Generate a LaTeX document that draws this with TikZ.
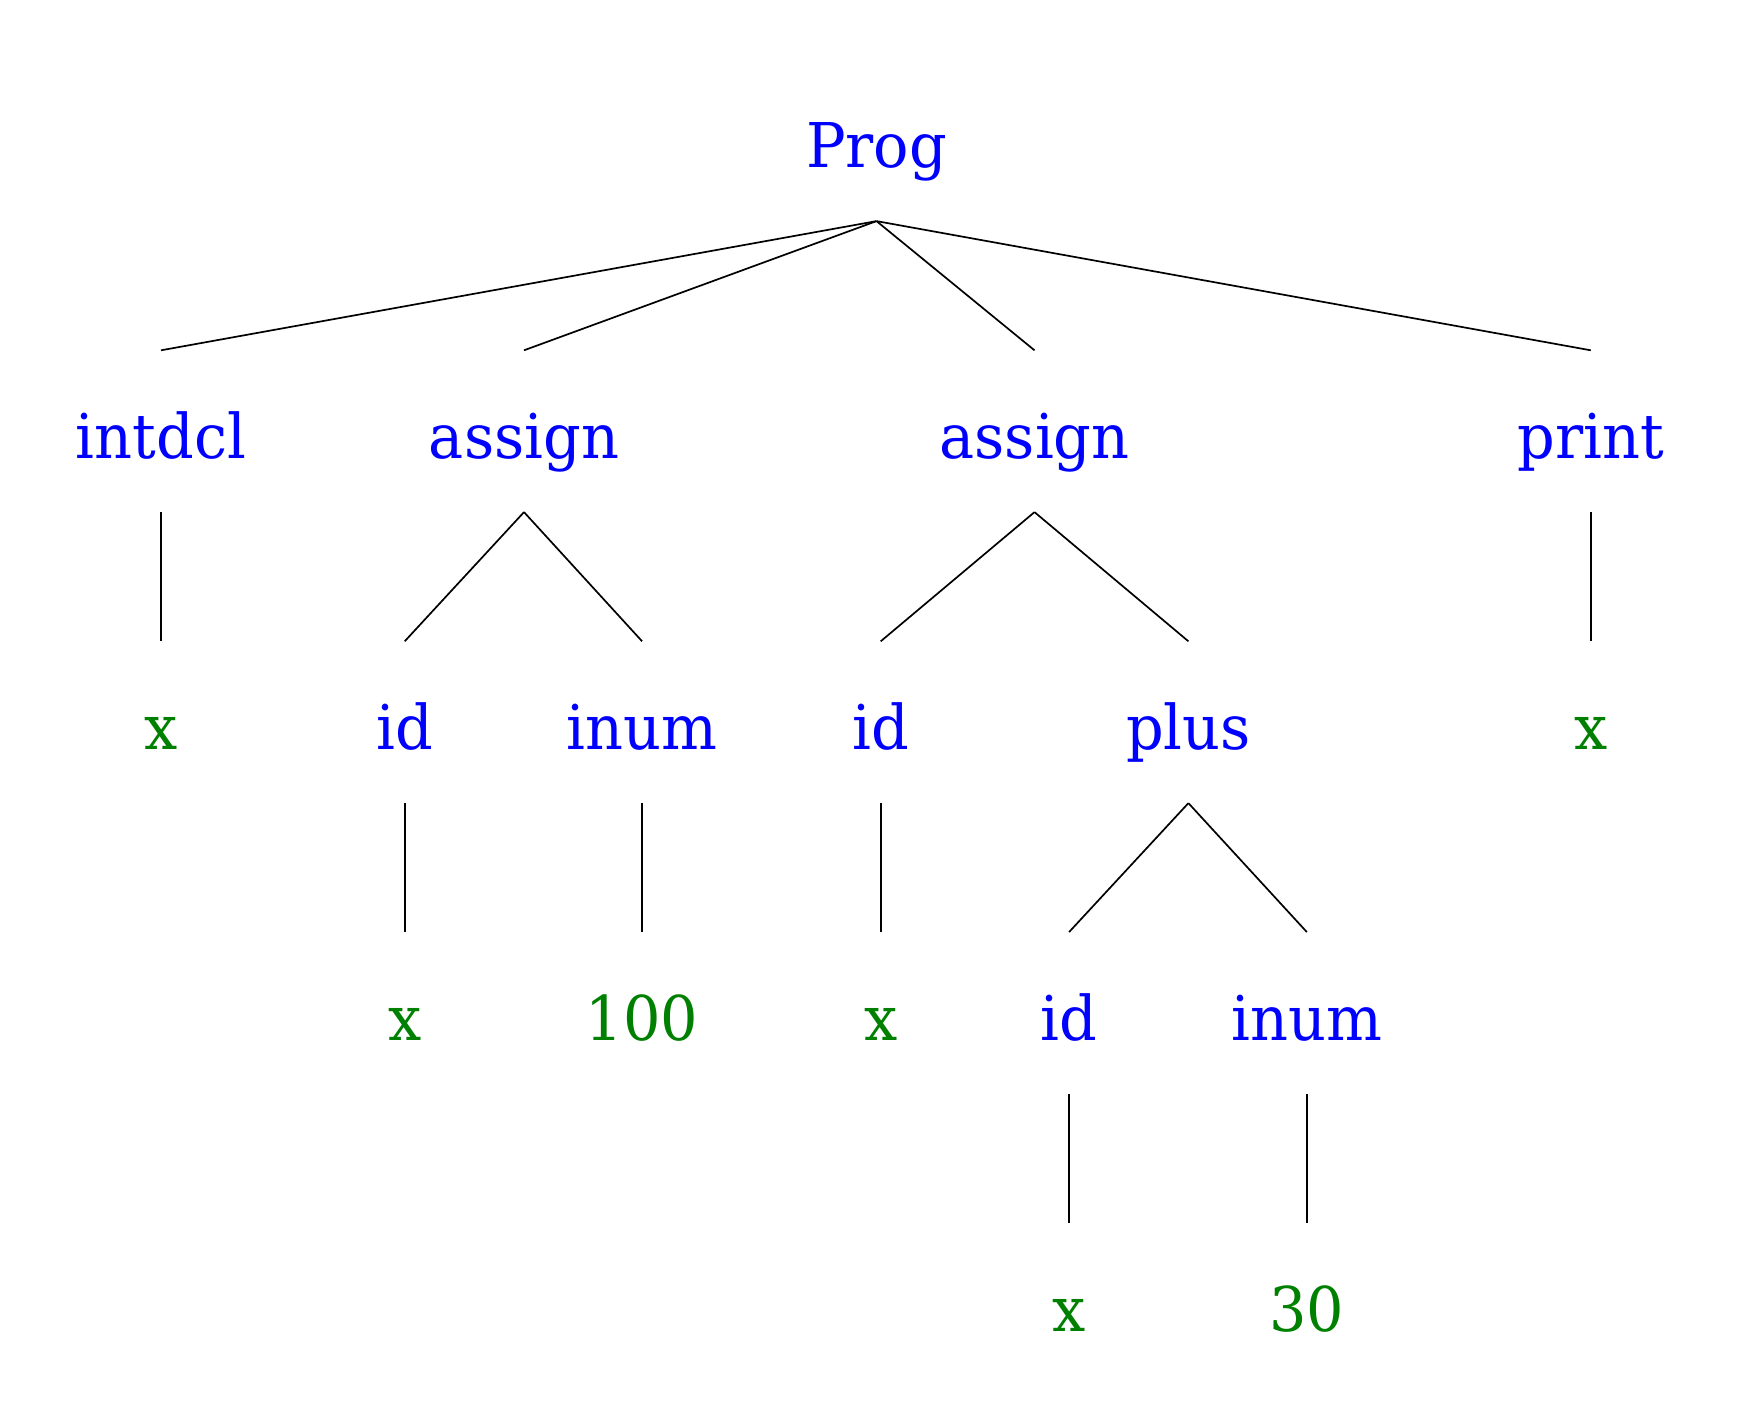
\documentclass[tikz,border=0pt]{standalone}
\usepackage{fontspec}
\setmainfont[FakeStretch=0.955]{DejaVu Serif}
\definecolor{nt}{RGB}{0,0,255}
\definecolor{tm}{RGB}{0,128,0}
\begin{document}
\begin{tikzpicture}[x=0.5pt,y=-0.5pt,
  lbl/.style={anchor=base,inner sep=0pt,text height=53.8pt,text depth=26.7pt,
    font=\fontsize{30.85}{37}\selectfont},
  ntn/.style={lbl,text=nt},
  tmn/.style={lbl,text=tm},
  edge/.style={line width=0.85pt,black}]
\useasboundingbox (0,0) rectangle (1748,1409);
% level 0
\node[ntn] (prog) at (876.5,167.3) {Prog};
% level 1
\node[ntn] (intdcl) at (161,458.3) {intdcl};
\node[ntn] (as1) at (524,458.3) {assign};
\node[ntn] (as2) at (1034.5,458.3) {assign};
\node[ntn] (print) at (1590.8,458.3) {print};
% level 2
\node[tmn] (x1) at (161,749.3) {x};
\node[ntn] (id1) at (404.7,749.3) {id};
\node[ntn] (inum1) at (642.1,749.3) {inum};
\node[ntn] (id2) at (880.7,749.3) {id};
\node[ntn] (plus) at (1188.4,749.3) {plus};
\node[tmn] (x2) at (1590.8,749.3) {x};
% level 3
\node[tmn] (x3) at (404.7,1040) {x};
\node[tmn] (n100) at (642.1,1040) {100};
\node[tmn] (x4) at (880.7,1040) {x};
\node[ntn] (id3) at (1069.1,1040) {id};
\node[ntn] (inum2) at (1306.8,1040) {inum};
% level 4
\node[tmn] (x5) at (1069.1,1331.2) {x};
\node[tmn] (n30) at (1306.8,1331.2) {30};
% edges
\foreach \c in {intdcl,as1,as2,print} \draw[edge] (prog.south) -- (\c.north);
\draw[edge] (intdcl.south) -- (x1.north);
\draw[edge] (as1.south) -- (id1.north);
\draw[edge] (as1.south) -- (inum1.north);
\draw[edge] (as2.south) -- (id2.north);
\draw[edge] (as2.south) -- (plus.north);
\draw[edge] (print.south) -- (x2.north);
\draw[edge] (id1.south) -- (x3.north);
\draw[edge] (inum1.south) -- (n100.north);
\draw[edge] (id2.south) -- (x4.north);
\draw[edge] (plus.south) -- (id3.north);
\draw[edge] (plus.south) -- (inum2.north);
\draw[edge] (id3.south) -- (x5.north);
\draw[edge] (inum2.south) -- (n30.north);
\end{tikzpicture}
\end{document}
